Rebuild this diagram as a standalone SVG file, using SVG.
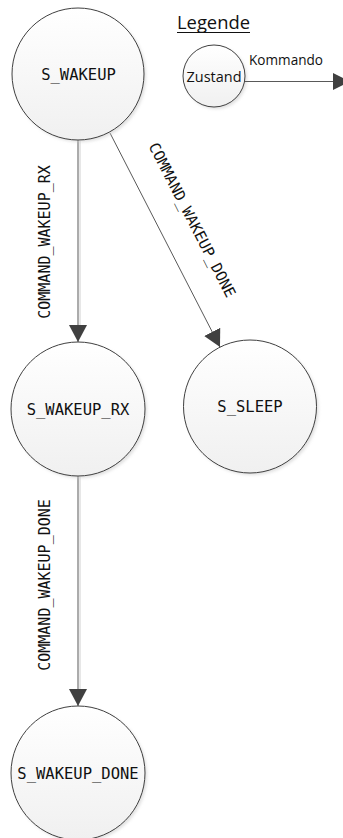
<svg xmlns="http://www.w3.org/2000/svg" width="343" height="838" viewBox="0 0 343 838">
  <style>
    .state { fill: url(#stateFill); stroke: #404040; stroke-width: 1; }
    .shadow { fill: #c8c8c8; opacity: 0.55; filter: url(#soft); }
    .name { font-family: "DejaVu Sans Mono", "Liberation Mono", monospace; font-size: 15.5px; fill: #111; text-anchor: middle; dominant-baseline: central; }
    .cmd { font-family: "DejaVu Sans Mono", "Liberation Mono", monospace; font-size: 15px; fill: #111; text-anchor: middle; dominant-baseline: central; }
    .legend { font-family: "Open Sans", "Liberation Sans", sans-serif; fill: #111; }
    .edge { stroke: #595959; stroke-width: 1; fill: none; }
    .edge-shadow { stroke: #d0d0d0; stroke-width: 1; fill: none; }
  </style>
  <defs>
    <linearGradient id="stateFill" x1="0" y1="0" x2="0" y2="1">
      <stop offset="0" stop-color="#ffffff"/>
      <stop offset="1" stop-color="#f0f0f0"/>
    </linearGradient>
    <filter id="soft" x="-20%" y="-20%" width="140%" height="140%">
      <feGaussianBlur stdDeviation="1.5"/>
    </filter>
    <marker id="arrow" viewBox="0 0 18 18" refX="17" refY="9" markerWidth="18" markerHeight="18" markerUnits="userSpaceOnUse" orient="auto">
      <path d="M0,0 L17,9 L0,18 Z" fill="#404040"/>
    </marker>
  </defs>

  <rect width="343" height="838" fill="#ffffff"/>

  <!-- legend -->
  <g id="legend">
    <text class="legend" x="177" y="29" font-size="18" textLength="73" lengthAdjust="spacingAndGlyphs">Legende</text>
    <line x1="177" y1="32.5" x2="250" y2="32.5" stroke="#111" stroke-width="1"/>
    <circle class="shadow" cx="216" cy="78" r="31"/>
    <circle class="state" cx="214" cy="76" r="31"/>
    <text class="legend" x="214" y="82" font-size="15" text-anchor="middle" textLength="55" lengthAdjust="spacingAndGlyphs">Zustand</text>
    <line class="edge" x1="245" y1="81.5" x2="343" y2="81.5"/>
    <path d="M333,73 L350,81.5 L333,90 Z" fill="#404040"/>
    <text class="legend" x="249" y="65" font-size="15" textLength="74" lengthAdjust="spacingAndGlyphs">Kommando</text>
  </g>

  <!-- transitions -->
  <g id="connectors">
    <line class="edge-shadow" x1="80" y1="141" x2="80" y2="325"/>
    <line class="edge" x1="78" y1="140" x2="78" y2="342" marker-end="url(#arrow)"/>
    <text class="cmd" transform="translate(44.5,242) rotate(-90)">COMMAND_WAKEUP_RX</text>

    <line class="edge" x1="110" y1="133" x2="220" y2="347" marker-end="url(#arrow)"/>
    <text class="cmd" transform="translate(192,220) rotate(62.8)">COMMAND_WAKEUP_DONE</text>

    <line class="edge-shadow" x1="80" y1="477" x2="80" y2="689"/>
    <line class="edge" x1="78" y1="476" x2="78" y2="706" marker-end="url(#arrow)"/>
    <text class="cmd" transform="translate(44.5,585) rotate(-90)">COMMAND_WAKEUP_DONE</text>
  </g>

  <!-- states -->
  <g id="s_wakeup">
    <circle class="shadow" cx="80" cy="76" r="66"/>
    <circle class="state" cx="78" cy="74" r="66"/>
    <text class="name" x="78.5" y="75">S_WAKEUP</text>
  </g>
  <g id="s_wakeup_rx">
    <circle class="shadow" cx="80" cy="411" r="67"/>
    <circle class="state" cx="78" cy="409" r="67"/>
    <text class="name" x="78" y="410">S_WAKEUP_RX</text>
  </g>
  <g id="s_sleep">
    <circle class="shadow" cx="252" cy="408.5" r="66.5"/>
    <circle class="state" cx="250" cy="406.5" r="66.5"/>
    <text class="name" x="250" y="407">S_SLEEP</text>
  </g>
  <g id="s_wakeup_done">
    <circle class="shadow" cx="80" cy="775" r="67"/>
    <circle class="state" cx="78" cy="773" r="67"/>
    <text class="name" x="78" y="774">S_WAKEUP_DONE</text>
  </g>
</svg>
